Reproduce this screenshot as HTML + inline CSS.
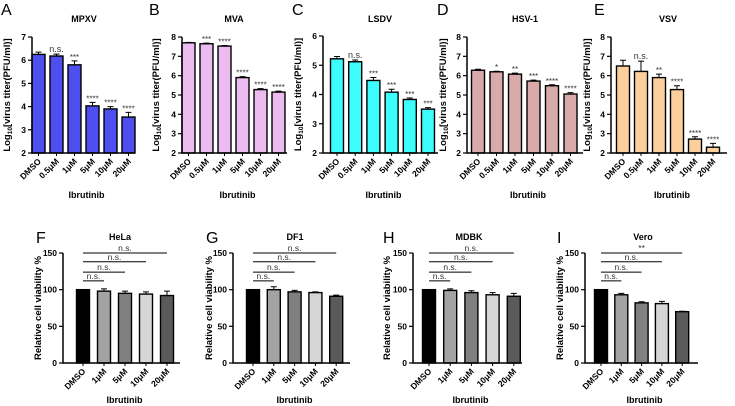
<!DOCTYPE html>
<html><head><meta charset="utf-8"><style>
body{margin:0;background:#fff}
svg{display:block;font-family:"Liberation Sans",Arial,sans-serif}
</style></head><body>
<svg id="fig" width="735" height="406" viewBox="0 0 735 406"></svg>
<script>
const topCats=["DMSO","0.5μM","1μM","5μM","10μM","20μM"];
const botCats=["DMSO","1μM","5μM","10μM","20μM"];
const aVals=[6.25,6.18,5.8,4.03,3.9,3.55];
const aErr=[0.1,0.08,0.17,0.15,0.1,0.2];
const aSig=["","n.s.","***","****","****","****"];
const bVals=[7.7,7.65,7.53,5.9,5.28,5.15];
const bErr=[0.02,0.03,0.03,0.05,0.05,0.05];
const bSig=["","***","****","****","****","****"];
const cVals=[5.22,5.12,4.48,4.08,3.83,3.5];
const cErr=[0.08,0.06,0.1,0.1,0.05,0.05];
const cSig=["","n.s.","***","***","***","***"];
const dVals=[6.28,6.2,6.08,5.72,5.48,5.05];
const dErr=[0.05,0.03,0.05,0.05,0.05,0.07];
const dSig=["","*","**","***","****","****"];
const eVals=[6.5,6.22,5.9,5.28,2.72,2.3];
const eErr=[0.3,0.53,0.18,0.2,0.12,0.2];
const eSig=["","n.s.","**","****","****","****"];
const fVals=[100,98,95,94,92];const fErr=[0,3,3,3,6];
const gVals=[100,100,97,96,91];const gErr=[0,4,2,1,1.5];
const hVals=[100,99,96,93,91];const hErr=[0,2,2.5,3,4];
const iVals=[100,93,82,81,70];const iErr=[0,2,1.5,3,0.5];
const fBr=["n.s.","n.s.","n.s.","n.s."];
const gBr=["n.s.","n.s.","n.s.","n.s."];
const hBr=["n.s.","n.s.","n.s.","n.s."];
const iBr=["n.s.","n.s.","n.s.","**"];
const brLevels=[112,124,138,150];
const topTicks2to7=[2,3,4,5,6,7];
const topTicks2to8=[2,3,4,5,6,7,8];
const topTicks2to6=[2,3,4,5,6];
const botTicks=[0,50,100,150];
const greyFills=["#000","#a3a3a3","#808080","#d6d6d6","#5a5a5a"];

const svg=document.getElementById('fig');
const NS="http://www.w3.org/2000/svg";
function el(tag,attrs,parent,text){const e=document.createElementNS(NS,tag);for(const k in attrs)e.setAttribute(k,attrs[k]);if(text!==undefined)e.textContent=text;(parent||svg).appendChild(e);return e;}

function panel(p){
  const g=el('g',{});
  
  
  const y=v=>p.yBase-(v-p.vmin)/(p.vmax-p.vmin)*(p.yBase-p.yTop);
  const x=i=>p.cx0+i*p.step;
  const lt=el('text',{x:p.lx,y:p.ly,'font-size':16},g,p.letter);
  
  const tt=el('text',{x:p.tx,y:p.ty,'font-size':9,'font-weight':'bold','text-anchor':'middle'},g,p.title);
  
  p.vals.forEach((v,i)=>{
    const b=el('rect',{x:x(i)-p.bw/2,y:y(v),width:p.bw,height:p.yBase-y(v),fill:Array.isArray(p.fill)?p.fill[i]:p.fill,stroke:'#000','stroke-width':1.4},g);
    
    const e=p.err[i];
    if(e>0){
      const eb=el('path',{d:`M${x(i)},${y(v)} V${y(v+e)} M${x(i)-3},${y(v+e)} H${x(i)+3}`,stroke:'#000','stroke-width':1,fill:'none'},g);
      
    }
    if(p.sig&&p.sig[i]){
      const ns=p.sig[i]==="n.s.";
      const s=el('text',{x:x(i),y:y(v+e)-(ns?2:1),'font-size':ns?9:8,fill:'#333','text-anchor':'middle'},g,p.sig[i]);
      
    }
    const tk=el('line',{x1:x(i),x2:x(i),y1:p.yBase,y2:p.yBase+3,stroke:'#000','stroke-width':1},g);
    
    const tl=el('text',{x:x(i)+3,y:p.yBase+9,'font-size':8.5,'font-weight':'bold','text-anchor':'end',transform:`rotate(-45 ${x(i)+3} ${p.yBase+9})`},g,p.cats[i]);
    
  });
  const ax=el('path',{d:`M${p.x0},${p.yTop} V${p.yBase} H${p.xEnd}`,stroke:'#000','stroke-width':1.5,fill:'none'},g);
  
  p.ticks.forEach(t=>{
    const tk=el('line',{x1:p.x0-4,x2:p.x0,y1:y(t),y2:y(t),stroke:'#000','stroke-width':1.2},g);
    
    const tl=el('text',{x:p.x0-6,y:y(t)+3,'font-size':8.5,'font-weight':'bold','text-anchor':'end'},g,t);
    
  });
  const xt=el('text',{x:(p.x0+p.xEnd)/2+3,y:p.xty,'font-size':9,'font-weight':'bold','text-anchor':'middle'},g,'Ibrutinib');
  
  const yc=(p.yTop+p.yBase)/2;
  const yt=el('text',{x:p.ylx,y:yc,'font-size':p.top?9.5:9.5,'font-weight':'bold','text-anchor':'middle',transform:`rotate(-90 ${p.ylx} ${yc})`},g);
  
  if(p.top){
    el('tspan',{},yt,'Log');el('tspan',{'font-size':6.5,dy:2},yt,'10');el('tspan',{dy:-2},yt,'[virus titer(PFU/ml)]');
  } else yt.textContent='Relative cell viability %';
  if(p.br){
    p.br.forEach((lab,k)=>{
      const ly=y(brLevels[k]);
      const bl=el('line',{x1:x(0),x2:x(k+1),y1:ly,y2:ly,stroke:'#000','stroke-width':1},g);
      
      const bt=el('text',{x:(x(0)+x(k+1))/2,y:ly-2,'font-size':8.5,fill:'#333','text-anchor':'middle'},g,lab);
      
    });
  }
}
const T={top:true,yBase:153,bw:13,cats:topCats,xty:198,ylx:10,ty:22};
panel({...T,id:'mpxv',letter:'A',lx:1,ly:15,title:'MPXV',tx:84,x0:32,xEnd:135,yTop:37,vmin:2,vmax:7,ticks:topTicks2to7,cx0:38.5,step:18,vals:aVals,err:aErr,sig:aSig,fill:'#4f4ff0'});
panel({...T,id:'mva',letter:'B',lx:149,ly:15,title:'MVA',tx:234,x0:182,xEnd:287,yTop:37,vmin:2,vmax:8,ticks:topTicks2to8,cx0:188.5,step:18,vals:bVals,err:bErr,sig:bSig,fill:'#ecbcf0',ylx:159});
panel({...T,id:'lsdv',letter:'C',lx:292,ly:15,title:'LSDV',tx:380,x0:323,xEnd:438,yTop:36,vmin:2,vmax:6,ticks:topTicks2to6,cx0:337,step:18.2,vals:cVals,err:cErr,sig:cSig,fill:'#3cfcfc',ylx:301});
panel({...T,id:'hsv1',letter:'D',lx:437,ly:15,title:'HSV-1',tx:525,x0:467,xEnd:583,yTop:37,vmin:2,vmax:8,ticks:topTicks2to8,cx0:478,step:18.5,vals:dVals,err:dErr,sig:dSig,fill:'#d8aaaa',ylx:446});
panel({...T,id:'vsv',letter:'E',lx:594,ly:15,title:'VSV',tx:668,x0:611,xEnd:727,yTop:37,vmin:2,vmax:8,ticks:topTicks2to8,cx0:623,step:18,vals:eVals,err:eErr,sig:eSig,fill:'#fcd09c',ylx:590});
const B={top:false,yBase:363,yTop:253,vmin:0,vmax:150,ticks:botTicks,bw:13,cats:botCats,fill:greyFills,xty:403,ty:240};
panel({...B,id:'hela',letter:'F',lx:36,ly:243,title:'HeLa',tx:120,x0:63,xEnd:180,cx0:83,step:21,vals:fVals,err:fErr,br:fBr,ylx:41});
panel({...B,id:'df1',letter:'G',lx:206,ly:243,title:'DF1',tx:295,x0:233,xEnd:350,cx0:253,step:20.8,vals:gVals,err:gErr,br:gBr,ylx:212});
panel({...B,id:'mdbk',letter:'H',lx:383,ly:243,title:'MDBK',tx:469,x0:413,xEnd:522,cx0:429,step:21.2,vals:hVals,err:hErr,br:hBr,ylx:390});
panel({...B,id:'vero',letter:'I',lx:557,ly:243,title:'Vero',tx:643,x0:585,xEnd:698,cx0:601,step:20.3,vals:iVals,err:iErr,br:iBr,ylx:563});
</script>
</body></html>
